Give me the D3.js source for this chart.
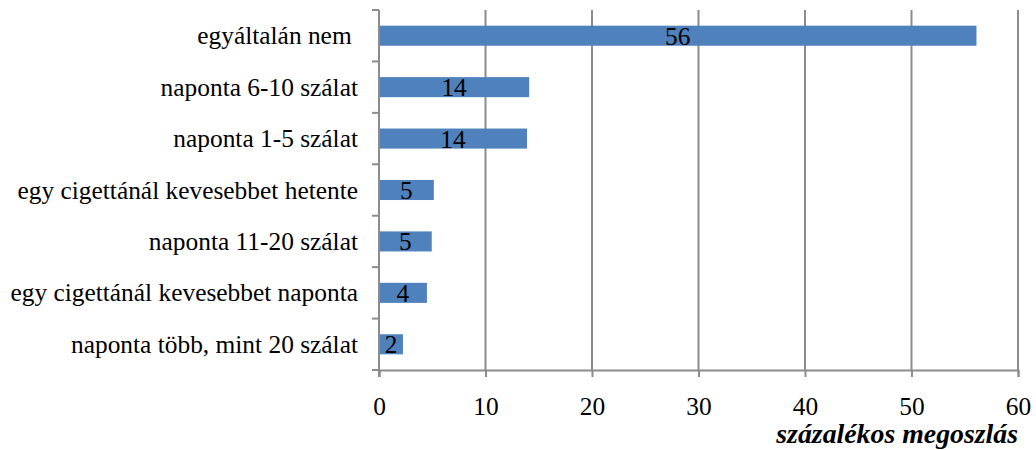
<!DOCTYPE html>
<html>
<head>
<meta charset="utf-8">
<script src="https://cdn.jsdelivr.net/npm/d3@7"></script>
<style>
  body { margin: 0; background: #fff; }
  svg text { font-family: "Liberation Serif", "Times New Roman", serif; fill: #000; }
</style>
</head>
<body>
<script>
const w = 1036;
const h = 450;
const margin = {left: 379, right: 18, top: 10, bottom: 80};
const innerW = w - margin.left - margin.right;
const innerH = h - margin.top - margin.bottom;
const fontSize = 25.4;

// categories top to bottom
const categories = [
  "egyáltalán nem ",
  "naponta 6-10 szálat",
  "naponta 1-5 szálat",
  "egy cigettánál kevesebbet hetente",
  "naponta 11-20 szálat",
  "egy cigettánál kevesebbet naponta",
  "naponta több, mint 20 szálat"
];
const values = [56.1, 14.1, 13.9, 5.15, 4.95, 4.5, 2.25];
const valueLabels = ["56", "14", "14", "5", "5", "4", "2"];
const xTicks = [0, 10, 20, 30, 40, 50, 60];
const xTitle = "százalékos megoszlás";

const data = categories.map((c, i) => ({cat: c, v: values[i], label: valueLabels[i]}));

const x = d3.scaleLinear().domain([0, 60]).range([0, innerW]);
const y = d3.scaleBand().domain(categories).range([0, innerH]).paddingInner(0.61).paddingOuter(0.305);

const svg = d3.select("body").append("svg")
  .attr("width", w)
  .attr("height", h);

const g = svg.append("g")
  .attr("transform", "translate(" + margin.left + "," + margin.top + ")");

// gridlines
g.append("g")
  .selectAll("line")
  .data(xTicks.slice(1))
  .enter().append("line")
  .attr("x1", d => x(d)).attr("x2", d => x(d))
  .attr("y1", 0).attr("y2", innerH)
  .attr("stroke", "#8c8c8c")
  .attr("stroke-width", 2);

// bars
g.append("g")
  .selectAll("rect")
  .data(data)
  .enter().append("rect")
  .attr("x", 0)
  .attr("y", d => y(d.cat))
  .attr("width", d => x(d.v))
  .attr("height", y.bandwidth())
  .attr("fill", "#4f81bd");

// value labels
g.append("g")
  .selectAll("text")
  .data(data)
  .enter().append("text")
  .attr("x", d => x(d.v) / 2)
  .attr("y", d => y(d.cat) + y.bandwidth() / 2 + 9)
  .attr("text-anchor", "middle")
  .style("font-size", fontSize + "px")
  .text(d => d.label);

// x axis
const xAxis = d3.axisBottom(x).tickValues(xTicks).tickSize(7).tickPadding(20).tickFormat(d3.format("d"));
const gx = g.append("g")
  .attr("transform", "translate(0," + innerH + ")")
  .call(xAxis);
gx.select(".domain").attr("stroke", "#8c8c8c").attr("stroke-width", 2);
gx.selectAll(".tick line").attr("stroke", "#8c8c8c").attr("stroke-width", 2);
gx.selectAll(".tick text")
  .style("font-family", "'Liberation Serif', 'Times New Roman', serif")
  .style("font-size", fontSize + "px")
  .attr("fill", "#000");

// y axis with ticks at category boundaries
const step = y.step();
const bounds = d3.range(categories.length + 1).map(i => i * step);
g.append("line")
  .attr("x1", 0).attr("x2", 0)
  .attr("y1", 0).attr("y2", innerH + 7)
  .attr("stroke", "#8c8c8c").attr("stroke-width", 2);
g.append("g")
  .selectAll("line")
  .data(bounds)
  .enter().append("line")
  .attr("x1", -7).attr("x2", 0)
  .attr("y1", d => d).attr("y2", d => d)
  .attr("stroke", "#8c8c8c").attr("stroke-width", 2);

// category labels
g.append("g")
  .selectAll("text")
  .data(categories)
  .enter().append("text")
  .attr("x", -21)
  .attr("y", d => y(d) + y.bandwidth() / 2 + 8.5)
  .attr("text-anchor", "end")
  .style("font-size", fontSize + "px")
  .style("white-space", "pre")
  .text(d => d);

// axis title
svg.append("text")
  .attr("x", margin.left + innerW)
  .attr("y", 443)
  .attr("text-anchor", "end")
  .style("font-size", "27.8px")
  .style("font-weight", "bold")
  .style("font-style", "italic")
  .text(xTitle);
</script>
</body>
</html>
